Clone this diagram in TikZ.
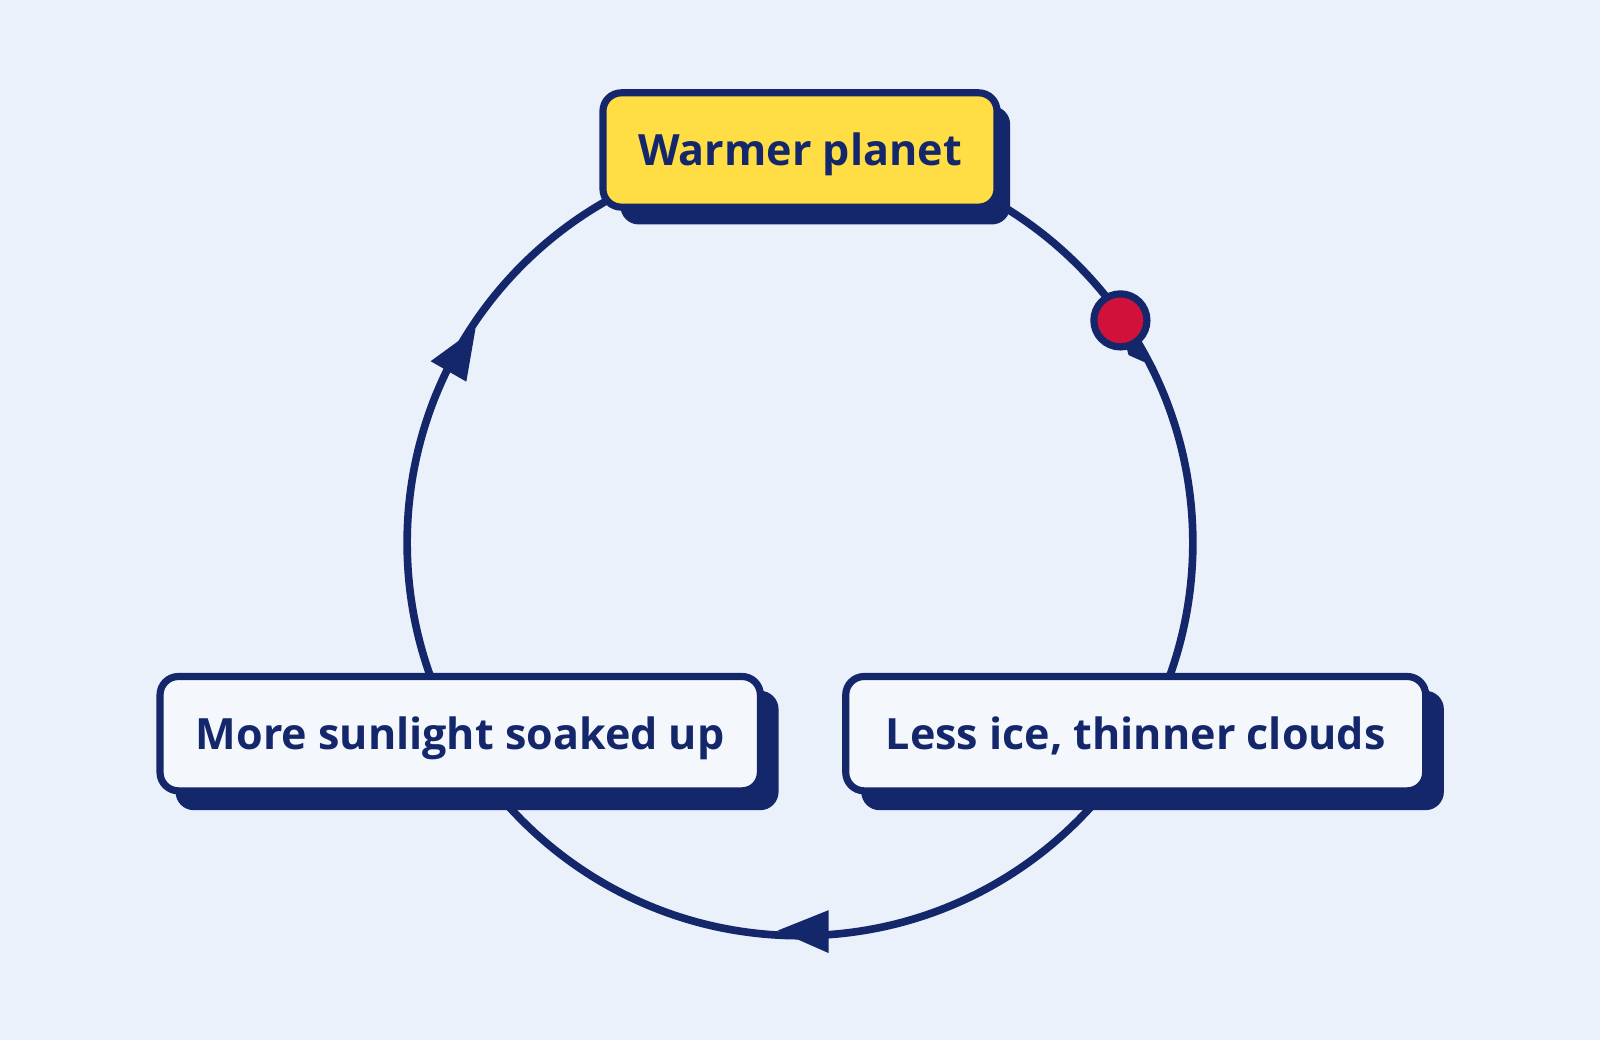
\documentclass[tikz,border=0pt]{standalone}
\usepackage{fontspec}
\setmainfont{Open Sans}
\definecolor{bg}{HTML}{EBF1FA}
\definecolor{navy}{HTML}{14276B}
\definecolor{sun}{HTML}{FFDD44}
\definecolor{dot}{HTML}{D0123A}
\definecolor{boxw}{HTML}{F4F7FC}
\begin{document}
\begin{tikzpicture}[x=0.01cm,y=-0.01cm,
  box/.style={draw=navy, line width=0.07cm, rounded corners=0.18cm, minimum height=1.12cm,
     font=\fontsize{12}{15}\selectfont\bfseries, text=navy, inner sep=0pt, text depth=0.02cm},
  shadow/.style={fill=navy, rounded corners=0.18cm},
  ring/.style={draw=navy, line width=0.075cm},
  tip/.style={fill=navy}]
\fill[bg] (0,0) rectangle (1568,1019);
\useasboundingbox (0,0) rectangle (1568,1019);
\coordinate (c) at (784,532);
\draw[ring] (c) circle[radius=385];
% arrowheads
\coordinate (a1) at (466,322);
\coordinate (a2) at (422,354);
\coordinate (a3) at (457,374);
\fill[tip] (a1) -- (a2) -- (a3) -- cycle;
\coordinate (b1) at (762,912);
\coordinate (b2) at (812,892);
\coordinate (b3) at (812,934);
\fill[tip] (b1) -- (b2) -- (b3) -- cycle;
\coordinate (d1) at (1098,318);
\coordinate (d2) at (1133,360);
\coordinate (d3) at (1106,348);
\fill[tip] (d1) -- (d2) -- (d3) -- cycle;
\node[circle, draw=navy, fill=dot, line width=0.07cm, minimum size=0.52cm, inner sep=0pt] (dt) at (1098,314) {};
% boxes
\fill[shadow] (608,104) rectangle (990,220);
\node[box, fill=sun, minimum width=3.86cm] (w) at (784,147) {Warmer planet};
\fill[shadow] (172,677) rectangle (763,794);
\node[box, fill=boxw, minimum width=5.88cm] (m) at (451,719) {More sunlight soaked up};
\fill[shadow] (844,677) rectangle (1415,794);
\node[box, fill=boxw, minimum width=5.68cm] (l) at (1113,719) {Less ice, thinner clouds};
\end{tikzpicture}
\end{document}
